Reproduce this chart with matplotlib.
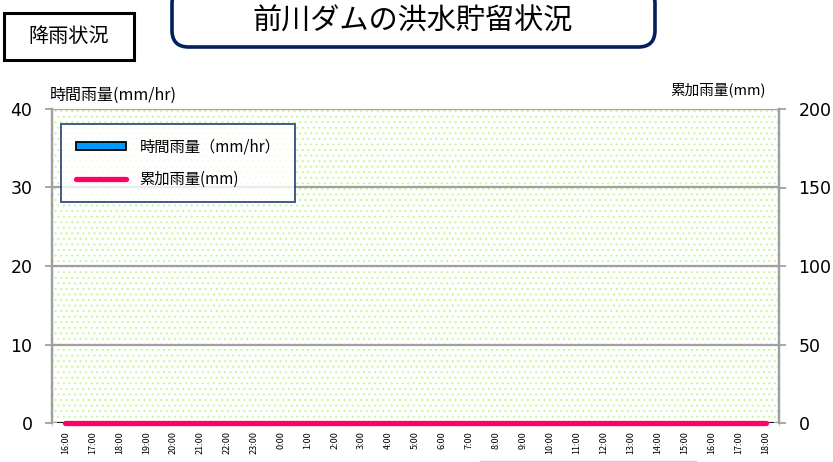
import matplotlib.pyplot as plt
import numpy as np
from matplotlib.patches import FancyBboxPatch, Rectangle
from matplotlib.lines import Line2D

plt.rcParams['font.family'] = ['Noto Sans CJK JP', 'DejaVu Sans']
plt.rcParams['hatch.linewidth'] = 0.8

# data
hours = ['16:00', '17:00', '18:00', '19:00', '20:00', '21:00', '22:00', '23:00',
         '0:00', '1:00', '2:00', '3:00', '4:00', '5:00', '6:00', '7:00', '8:00',
         '9:00', '10:00', '11:00', '12:00', '13:00', '14:00', '15:00', '16:00',
         '17:00', '18:00']
rain_hourly = [0, 0, 0, 0, 0, 0, 0, 0, 0, 0, 0, 0, 0, 0, 0, 0, 0, 0, 0, 0, 0, 0, 0, 0, 0, 0, 0]
rain_total = [0, 0, 0, 0, 0, 0, 0, 0, 0, 0, 0, 0, 0, 0, 0, 0, 0, 0, 0, 0, 0, 0, 0, 0, 0, 0, 0]

W, H = 833, 462
fig = plt.figure(figsize=(W / 100, H / 100), dpi=100)

ax = fig.add_axes([52 / W, 1 - 423 / H, (779 - 52) / W, (423 - 109) / H])
ax2 = ax.twinx()
x = np.arange(len(hours))

# dotted background
bg = Rectangle((0, 0), 1, 1, transform=ax.transAxes, facecolor='white',
               edgecolor='#c8f79a', hatch='...', lw=0, zorder=0)
ax.add_patch(bg)
ax.patch.set_visible(False)

bars = ax.bar(x, rain_hourly, width=0.6, color='#0099ff', edgecolor='black', lw=1.2, zorder=3)
line, = ax2.plot(x, rain_total, color='#ff0066', lw=3.8, solid_capstyle='round',
                 zorder=4, clip_on=False)

ax.set_xlim(-0.5, len(hours) - 0.5)
ax.set_ylim(0, 40)
ax2.set_ylim(0, 200)
ax.set_yticks([0, 10, 20, 30, 40])
ax2.set_yticks([0, 50, 100, 150, 200])
ax.yaxis.grid(True, color='#a0a0a0', lw=1.6, zorder=1)
ax.set_axisbelow(True)

ax.set_xticks(x)
ax.set_xticklabels(hours, rotation=90, fontsize=6.5)
ax.set_xticks(np.arange(-0.5, len(hours)), minor=True)
ax.tick_params(axis='x', which='major', length=0, pad=6)
ax.tick_params(axis='x', which='minor', length=2.5, color='#c8c8c8')
ax.tick_params(axis='y', labelsize=12.5, length=5, color='#a0a0a0', width=1.3, pad=9)
ax2.tick_params(axis='y', labelsize=12.5, length=5, color='#a0a0a0', width=1.3, pad=9)
for t in ax.get_yticklabels() + ax2.get_yticklabels():
    t.set_family('DejaVu Sans')

for a in (ax, ax2):
    a.spines['top'].set_visible(False)
    a.spines['bottom'].set_visible(False)
    a.spines['left'].set_color('#a0a0a0')
    a.spines['right'].set_color('#a0a0a0')
    a.spines['left'].set_linewidth(1.6)
    a.spines['right'].set_linewidth(1.6)

fig.text(50 / W, 1 - 95 / H, '時間雨量(mm/hr)', fontsize=11.5, ha='left', va='center')
fig.text(766 / W, 1 - 90 / H, '累加雨量(mm)', fontsize=10.5, ha='right', va='center')

# legend
h_bar = Rectangle((0, 0), 1, 1, facecolor='#0099ff', edgecolor='black', lw=1.3)
h_line = Line2D([], [], color='#ff0066', lw=3.8, solid_capstyle='round')
leg = ax2.legend([h_bar, h_line], ['時間雨量（mm/hr）', '累加雨量(mm)'],
                 loc='upper left', bbox_to_anchor=(61 / W, 1 - 124 / H),
                 bbox_transform=fig.transFigure, fancybox=False, fontsize=11,
                 handlelength=3.3, handleheight=0.45, labelspacing=1.0,
                 borderpad=0.95, handletextpad=0.9, borderaxespad=0)
leg.get_frame().set_edgecolor('#13306b')
leg.get_frame().set_linewidth(1.4)
leg.set_zorder(10)

# title boxes
title_box = FancyBboxPatch((172 / W, 1 - 47 / H), (655 - 172) / W, 60 / H,
                           boxstyle='round,pad=0,rounding_size=0.02',
                           transform=fig.transFigure, facecolor='white',
                           edgecolor='#002060', lw=2.6, mutation_aspect=W / H)
fig.patches.append(title_box)
fig.text(413 / W, 1 - 22 / H, '前川ダムの洪水貯留状況', fontsize=21, ha='center', va='center')

rain_box = Rectangle((4 / W, 1 - 60 / H), (134 - 4) / W, 47 / H, transform=fig.transFigure,
                     facecolor='white', edgecolor='black', lw=2.2)
fig.patches.append(rain_box)
fig.text(69 / W, 1 - 37 / H, '降雨状況', fontsize=14.5, ha='center', va='center')

fig.add_artist(Line2D([480 / W, 696 / W], [1.5 / H, 1.5 / H], transform=fig.transFigure,
                      color='#d0d0d0', lw=1))

fig.savefig('out.png', dpi=100)
